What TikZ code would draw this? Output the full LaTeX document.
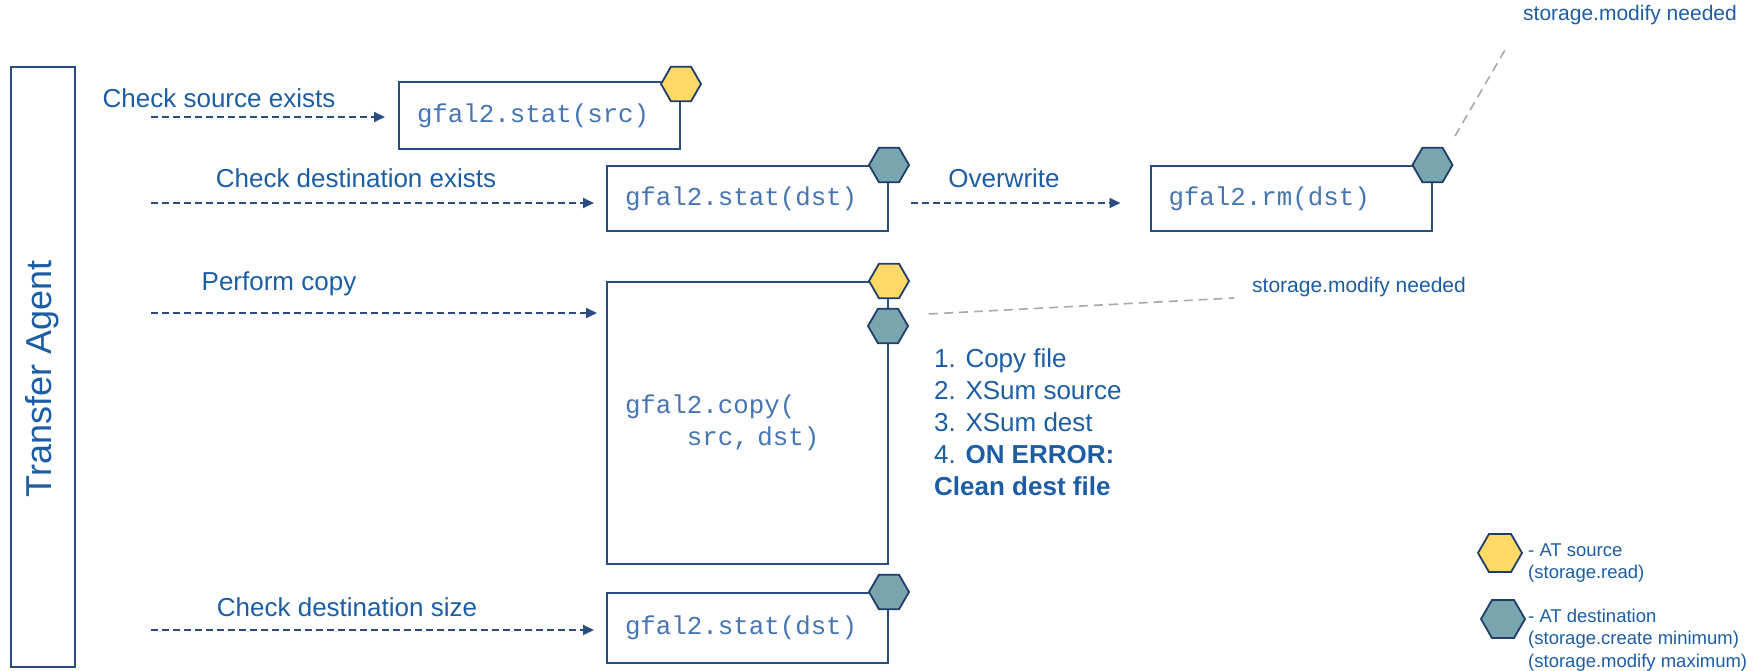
\documentclass[tikz,border=0pt]{standalone}
\usepackage{fontspec}
\setmainfont{Liberation Sans}
\setmonofont{Liberation Mono}
\usetikzlibrary{shapes.geometric,arrows.meta,calc}
\definecolor{txtblue}{HTML}{1C5DA3}
\definecolor{codeblue}{HTML}{4575B2}
\definecolor{boxline}{HTML}{2B4C7E}
\definecolor{hexline}{HTML}{1F3D6B}
\definecolor{hexyellow}{HTML}{FFD966}
\definecolor{hexteal}{HTML}{79A6AE}
\definecolor{hintgray}{HTML}{A8A8A8}
\tikzset{
  lbl/.style={font=\fontsize{26}{31}\selectfont, text=txtblue, inner sep=0pt},
  small/.style={font=\fontsize{21}{25}\selectfont, text=txtblue, inner sep=0pt},
  legend/.style={font=\fontsize{18.5}{22.5}\selectfont, text=txtblue, inner sep=0pt, align=left},
  callbox/.style={draw=boxline, line width=2pt, font=\ttfamily\fontsize{25.8}{32}\selectfont,
    text=codeblue, text width=245pt, align=left, inner xsep=18pt, inner ysep=0pt},
  hexbase/.style={regular polygon, regular polygon sides=6, minimum size=40pt, inner sep=0pt,
    draw=hexline, line width=1.8pt},
  hexsrc/.style={hexbase, fill=hexyellow},
  hexdst/.style={hexbase, fill=hexteal},
  dasharrow/.style={draw=boxline, line width=1.8pt, dash pattern=on 7pt off 4pt,
    -{Triangle[length=11pt,width=10pt]}},
  hint/.style={draw=hintgray, line width=1.6pt, dash pattern=on 9pt off 6pt},
}
\begin{document}
\begin{tikzpicture}[x=1pt,y=-1pt]
\useasboundingbox (0,0) rectangle (1759,671);

% Transfer agent
\node[draw=boxline, line width=2pt, minimum width=64pt, minimum height=600pt, inner sep=0pt] (ta) at (43,367) {};
\node[rotate=90, font=\fontsize{36}{40}\selectfont, text=txtblue] (talbl) at (42,379) {Transfer Agent};

% boxes
\node[callbox, minimum height=67pt] (src) at (539.5,115.5) {gfal2.stat(src)};
\node[callbox, minimum height=65pt] (dst) at (747.5,198.5) {gfal2.stat(dst)};
\node[callbox, minimum height=65pt] (rm) at (1291,198.5) {gfal2.rm(dst)};
\node[callbox, minimum height=282pt] (copy) at (747.5,423) {gfal2.copy(\\\hspace*{2.4em}src, dst)};
\node[callbox, minimum height=70pt] (size) at (747.5,628) {gfal2.stat(dst)};

% hexagons
\node[hexsrc] (hsrc) at ([yshift=-3pt]src.north east) {};
\node[hexdst] (hdst) at (dst.north east) {};
\node[hexdst] (hrm) at (rm.north east) {};
\node[hexsrc] (hcopys) at (copy.north east) {};
\node[hexdst] (hcopyd) at (888,326) {};
\node[hexdst] (hsize) at (size.north east) {};

% labels
\node[lbl] (l1) at (219,98) {Check source exists};
\node[lbl] (l2) at (356,178) {Check destination exists};
\node[lbl] (l3) at (1004,178) {Overwrite};
\node[lbl] (l4) at (279,284) {Perform copy};
\node[lbl] (l5) at (347,607) {Check destination size};

% arrows
\coordinate (s1) at (151,117);
\coordinate (s2) at (151,203);
\coordinate (s3) at (151,313);
\coordinate (s4) at (151,630);
\draw[dasharrow] (s1) -- ([xshift=-13pt]s1 -| src.west);
\draw[dasharrow] (s2) -- ([xshift=-12pt]s2 -| dst.west);
\draw[dasharrow] (s3) -- ([xshift=-9pt]s3 -| copy.west);
\draw[dasharrow] (s4) -- ([xshift=-12pt]s4 -| size.west);
\coordinate (o1) at (911,203);
\draw[dasharrow] (o1) -- ([xshift=-29pt]o1 -| rm.west);

% storage.modify hints
\node[small] (mod1) at (1630,15) {storage.modify needed};
\node[small] (mod2) at (1359,287) {storage.modify needed};
\coordinate (g1a) at (1455,136);
\coordinate (g1b) at (1505,50);
\draw[hint] (g1a) -- (g1b);
\coordinate (g2a) at (929,314);
\coordinate (g2b) at (1234,298);
\draw[hint] (g2a) -- (g2b);

% steps
\node[lbl, anchor=west, align=left, font=\fontsize{26}{32}\selectfont] (steps) at (934,422)
  {1. Copy file\\2. XSum source\\3. XSum dest\\4. \textbf{ON ERROR:}\\\textbf{Clean dest file}};

% legend
\node[hexbase, fill=hexyellow, minimum size=44pt] (lgy) at (1500,553) {};
\node[legend, anchor=west] (lgyt) at (1528,563) {- AT source\\(storage.read)};
\node[hexbase, fill=hexteal, minimum size=44pt] (lgt) at (1503,619) {};
\node[legend, anchor=west] (lgtt) at (1528,640) {- AT destination\\(storage.create minimum)\\(storage.modify maximum)};
\end{tikzpicture}
\end{document}
